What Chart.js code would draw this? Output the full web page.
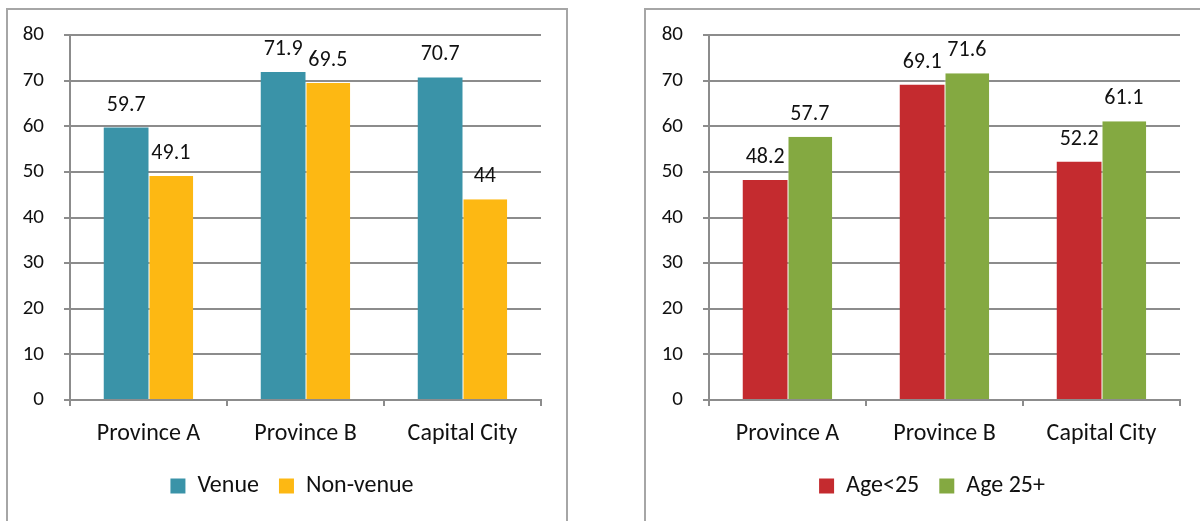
<!DOCTYPE html>
<html>
<head>
<meta charset="utf-8">
<script src="https://cdn.jsdelivr.net/npm/chart.js@4.4.1/dist/chart.umd.min.js"></script>
<style>
  html, body { margin: 0; padding: 0; background: #ffffff; }
  body { width: 1200px; height: 521px; position: relative; overflow: hidden; }
  .panel { position: absolute; border: 2px solid #a6a6a6; box-sizing: border-box; }
  #panelLeft { left: 6px; top: 8px; width: 562px; height: 540px; }
  #panelRight { left: 644px; top: 8px; width: 580px; height: 540px; }
  canvas { position: absolute; }
  #chartLeft { left: 8px; top: 10px; }
  #chartRight { left: 646px; top: 10px; }
</style>
</head>
<body>
<div class="panel" id="panelLeft"></div>
<div class="panel" id="panelRight"></div>
<canvas id="chartLeft" width="568" height="511"></canvas>
<canvas id="chartRight" width="572" height="511"></canvas>
<script>
// Categories shared by both charts
const categories = ['Province A', 'Province B', 'Capital City'];

// Left chart: venue vs non-venue
const venueValues = [59.7, 71.9, 70.7];
const nonVenueValues = [49.1, 69.5, 44];

// Right chart: by age group
const ageUnder25Values = [48.2, 69.1, 52.2];
const age25PlusValues = [57.7, 71.6, 61.1];

// Value axis
const yMin = 0;
const yMax = 80;
const yStep = 10;

const FONT = 'Carlito, Calibri, "Open Sans", sans-serif';
const TICK_SIZE = 21;
const CAT_SIZE = 24;
const LABEL_SIZE = 22;
const GRID = '#8c8c8c';
const TEXT = '#111111';

// Writes each bar's value just above its top
const valueLabels = {
  id: 'valueLabels',
  afterDatasetsDraw(chart) {
    const ctx = chart.ctx;
    ctx.save();
    ctx.font = LABEL_SIZE + 'px ' + FONT;
    ctx.fillStyle = TEXT;
    ctx.textAlign = 'center';
    ctx.textBaseline = 'alphabetic';
    chart.data.datasets.forEach((ds, di) => {
      const meta = chart.getDatasetMeta(di);
      meta.data.forEach((bar, i) => {
        ctx.fillText(String(ds.data[i]), bar.x, bar.y - 17);
      });
    });
    ctx.restore();
  }
};

// yWidth: room for the value axis; rightGap: empty band right of the plot
// (the legend spans the full width, so this band also sets where it is centred)
function makeChart(id, names, series, colors, yWidth, rightGap) {
  return new Chart(document.getElementById(id), {
    type: 'bar',
    data: {
      labels: categories,
      datasets: series.map((values, k) => ({
        label: names[k],
        data: values,
        backgroundColor: colors[k],
        borderColor: 'rgba(255,255,255,0.55)',
        borderWidth: k === 0 ? 0 : { left: 1, right: 0, top: 0, bottom: 0 },
        borderSkipped: false,
        categoryPercentage: 0.57,
        barPercentage: 1.0
      }))
    },
    options: {
      responsive: false,
      animation: false,
      devicePixelRatio: 1,
      layout: { padding: { top: 25, right: 0, left: 0, bottom: 13 } },
      plugins: {
        tooltip: { enabled: false },
        legend: {
          position: 'bottom',
          labels: {
            font: { size: CAT_SIZE, family: FONT },
            color: TEXT,
            boxWidth: 15,
            boxHeight: 15,
            padding: 20,
            generateLabels(chart) {
              return chart.data.datasets.map((ds, i) => ({
                text: ds.label,
                fillStyle: ds.backgroundColor,
                strokeStyle: ds.backgroundColor,
                lineWidth: 0,
                hidden: false,
                datasetIndex: i,
                fontColor: TEXT
              }));
            }
          }
        }
      },
      scales: {
        x: {
          offset: true,
          grid: {
            offset: true,
            drawOnChartArea: false,
            drawTicks: true,
            tickLength: 6,
            color: GRID,
            lineWidth: 2
          },
          border: { display: true, color: GRID, width: 2 },
          ticks: { font: { size: CAT_SIZE, family: FONT }, color: TEXT, padding: 14 },
          afterFit(scale) { scale.height = 54; }
        },
        y: {
          min: yMin,
          max: yMax,
          ticks: { stepSize: yStep, font: { size: TICK_SIZE, family: FONT }, color: TEXT, padding: 20 },
          grid: { color: GRID, lineWidth: 2, drawTicks: true, tickLength: 6 },
          border: { display: true, color: GRID, width: 2 },
          afterFit(scale) {
            scale.width = yWidth;
            scale.paddingTop = 0;
            scale.paddingBottom = 0;
          }
        },
        spacer: {
          type: 'linear',
          position: 'right',
          display: true,
          ticks: { display: false },
          grid: { drawOnChartArea: false, drawTicks: false },
          border: { display: false },
          afterFit(scale) {
            scale.width = rightGap;
            scale.paddingTop = 0;
            scale.paddingBottom = 0;
          }
        }
      }
    },
    plugins: [valueLabels]
  });
}

makeChart('chartLeft', ['Venue', 'Non-venue'], [venueValues, nonVenueValues],
  ['#3a93a8', '#fdb813'], 62, 35);
makeChart('chartRight', ['Age<25', 'Age 25+'], [ageUnder25Values, age25PlusValues],
  ['#c42b2f', '#84a941'], 63, 38);
</script>
</body>
</html>
